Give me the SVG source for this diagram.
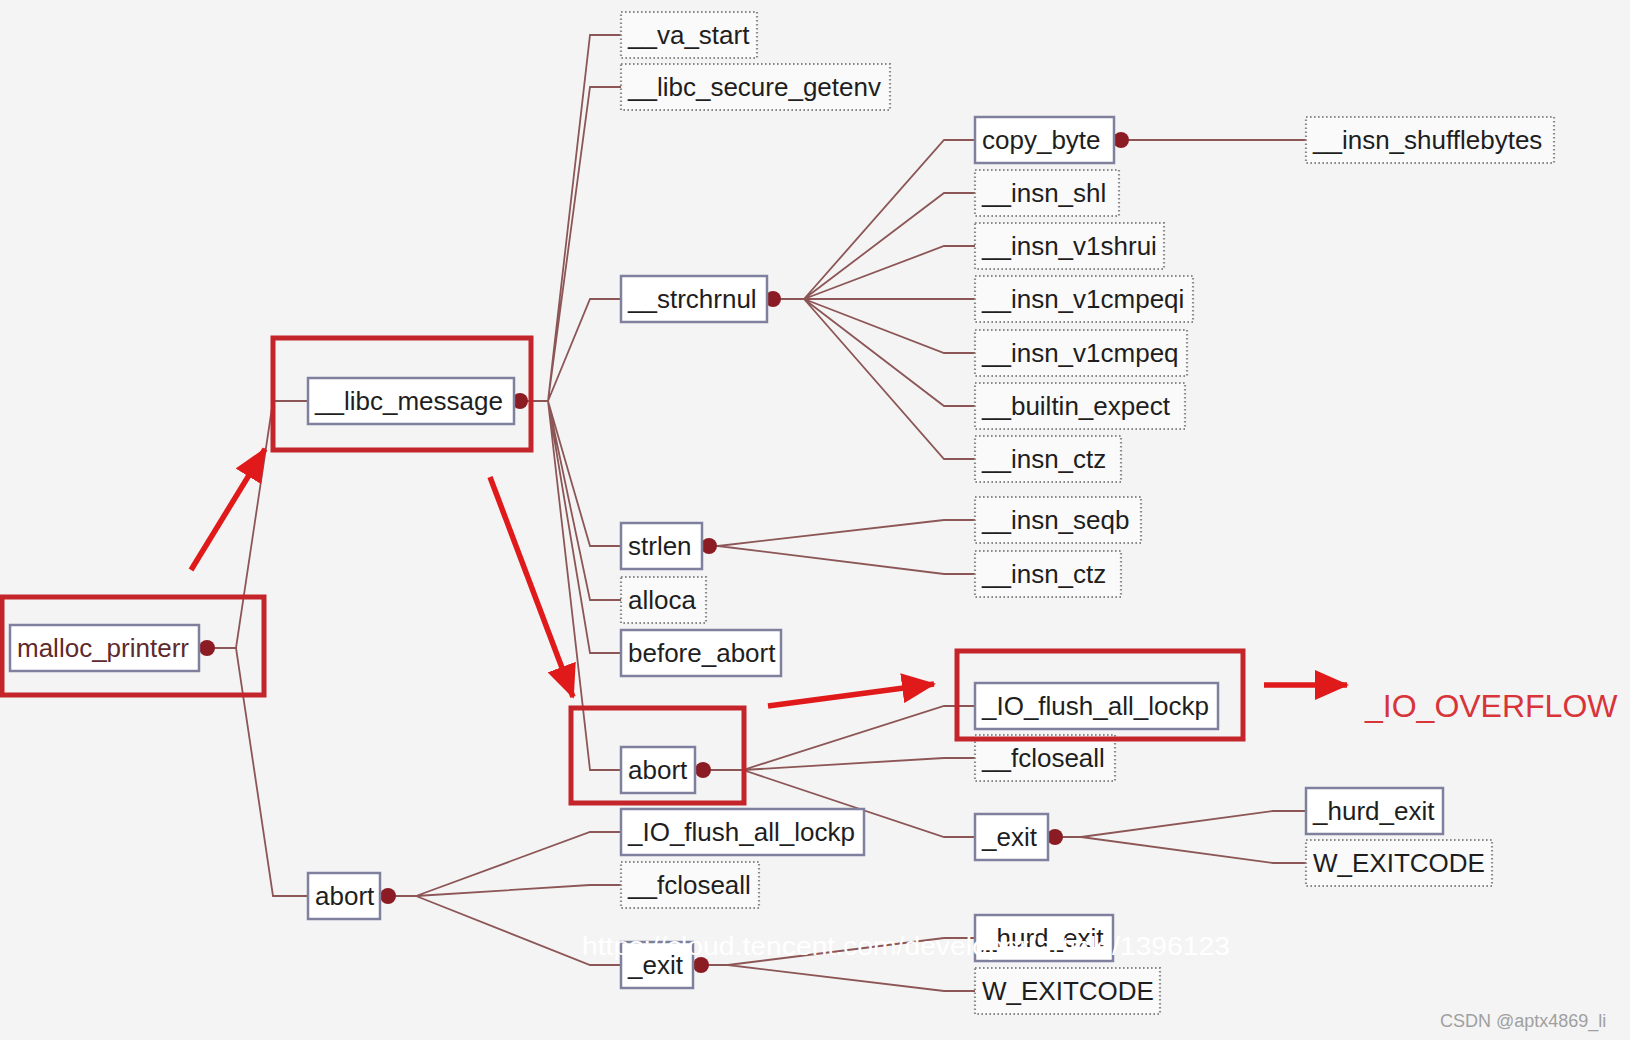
<svg xmlns="http://www.w3.org/2000/svg" width="1630" height="1040" viewBox="0 0 1630 1040">
<defs>
<style>
.n rect{fill:#ffffff;stroke:#7e809e;stroke-width:2.5}
.d rect{fill:#fafafa;stroke:#8a8a8a;stroke-width:2.2;stroke-dasharray:1.6 2.4}
text{font-family:"Liberation Sans",Arial,sans-serif}
.n text,.d text{font-size:26px;fill:#1e1e1e}
.c path{fill:none;stroke:#8d5656;stroke-width:1.8}
.c circle{fill:#8b1c24}
.hl{fill:none;stroke:#c3252b;stroke-width:5}
.ra{fill:none;stroke:#e01a1a;stroke-width:5.5;marker-end:url(#ah)}
</style>
<marker id="ah" markerUnits="userSpaceOnUse" markerWidth="36" markerHeight="30" refX="32" refY="15" orient="auto">
<path d="M0,0 L34,15 L0,30 Z" fill="#e01a1a"/>
</marker>
</defs>
<rect x="0" y="0" width="1630" height="1040" fill="#f4f4f4"/>

<g id="connectors" class="c">
<path d="M206,648 H236 M236,648 L273,401 H308 M236,648 L273,896 H308"/>
<path d="M519,401 H548 M548,401 L590,35 H621 M548,401 L590,87 H621 M548,401 L590,299 H621 M548,401 L590,546 H621 M548,401 L590,600 H621 M548,401 L590,653 H621 M548,401 L590,770 H621"/>
<path d="M772,299 H804 M804,299 L944,140 H975 M804,299 L944,193 H975 M804,299 L944,246 H975 M804,299 L944,299 H975 M804,299 L944,353 H975 M804,299 L944,406 H975 M804,299 L944,459 H975"/>
<path d="M1120,140 H1306"/>
<path d="M708,546 H718 M718,546 L944,520 H975 M718,546 L944,574 H975"/>
<path d="M702,770 H743 M743,770 L944,706 H975 M743,770 L944,758 H975 M743,770 L944,837 H975"/>
<path d="M1054,837 H1081 M1081,837 L1273,811 H1306 M1081,837 L1273,863 H1306"/>
<path d="M387,896 H416 M416,896 L590,832 H621 M416,896 L590,885 H621 M416,896 L590,965 H621"/>
<path d="M700,965 H728 M728,965 L944,938 H975 M728,965 L944,991 H975"/>
<circle cx="207" cy="648" r="8"/>
<circle cx="520" cy="401" r="8"/>
<circle cx="773" cy="299" r="8"/>
<circle cx="1121" cy="140" r="8"/>
<circle cx="709" cy="546" r="8"/>
<circle cx="703" cy="770" r="8"/>
<circle cx="388" cy="896" r="8"/>
<circle cx="1055" cy="837" r="8"/>
<circle cx="701" cy="965" r="8"/>
</g>

<g id="n_va_start" class="d"><rect x="621" y="12" width="136" height="46"/><text x="628" y="44">__va_start</text></g>
<g id="n_libc_secure_getenv" class="d"><rect x="621" y="64" width="269" height="46"/><text x="628" y="96">__libc_secure_getenv</text></g>
<g id="n_strchrnul" class="n"><rect x="621" y="276" width="146" height="46"/><text x="628" y="308">__strchrnul</text></g>
<g id="n_libc_message" class="n"><rect x="308" y="378" width="206" height="46"/><text x="315" y="410">__libc_message</text></g>
<g id="n_malloc_printerr" class="n"><rect x="10" y="625" width="189" height="46"/><text x="17" y="657" style="fill:#5e2a2c">malloc_printerr</text></g>
<g id="n_strlen" class="n"><rect x="621" y="523" width="81" height="46"/><text x="628" y="555">strlen</text></g>
<g id="n_alloca" class="d"><rect x="621" y="577" width="85" height="46"/><text x="628" y="609">alloca</text></g>
<g id="n_before_abort" class="n"><rect x="621" y="630" width="160" height="46"/><text x="628" y="662">before_abort</text></g>
<g id="n_abort_mid" class="n"><rect x="621" y="747" width="74" height="46"/><text x="628" y="779">abort</text></g>
<g id="n_abort_bottom" class="n"><rect x="308" y="873" width="72" height="46"/><text x="315" y="905">abort</text></g>
<g id="n_io_flush_bottom" class="n"><rect x="621" y="809" width="243" height="46"/><text x="628" y="841">_IO_flush_all_lockp</text></g>
<g id="n_fcloseall_bottom" class="d"><rect x="621" y="862" width="138" height="46"/><text x="628" y="894">__fcloseall</text></g>
<g id="n_exit_bottom" class="n"><rect x="621" y="942" width="72" height="46"/><text x="628" y="974">_exit</text></g>
<g id="n_hurd_exit_bottom" class="n"><rect x="975" y="915" width="138" height="46"/><text x="982" y="947">_hurd_exit</text></g>
<g id="n_w_exitcode_bottom" class="d"><rect x="975" y="968" width="185" height="46"/><text x="982" y="1000">W_EXITCODE</text></g>
<g id="n_copy_byte" class="n"><rect x="975" y="117" width="139" height="46"/><text x="982" y="149">copy_byte</text></g>
<g id="n_shufflebytes" class="d"><rect x="1306" y="117" width="248" height="46"/><text x="1313" y="149">__insn_shufflebytes</text></g>
<g id="n_shl" class="d"><rect x="975" y="170" width="144" height="46"/><text x="982" y="202">__insn_shl</text></g>
<g id="n_v1shrui" class="d"><rect x="975" y="223" width="189" height="46"/><text x="982" y="255">__insn_v1shrui</text></g>
<g id="n_v1cmpeqi" class="d"><rect x="975" y="276" width="218" height="46"/><text x="982" y="308">__insn_v1cmpeqi</text></g>
<g id="n_v1cmpeq" class="d"><rect x="975" y="330" width="212" height="46"/><text x="982" y="362">__insn_v1cmpeq</text></g>
<g id="n_builtin_expect" class="d"><rect x="975" y="383" width="210" height="46"/><text x="982" y="415">__builtin_expect</text></g>
<g id="n_ctz1" class="d"><rect x="975" y="436" width="146" height="46"/><text x="982" y="468">__insn_ctz</text></g>
<g id="n_seqb" class="d"><rect x="975" y="497" width="166" height="46"/><text x="982" y="529">__insn_seqb</text></g>
<g id="n_ctz2" class="d"><rect x="975" y="551" width="146" height="46"/><text x="982" y="583">__insn_ctz</text></g>
<g id="n_io_flush_mid" class="n"><rect x="975" y="683" width="243" height="46"/><text x="982" y="715">_IO_flush_all_lockp</text></g>
<g id="n_fcloseall_mid" class="d"><rect x="975" y="735" width="140" height="46"/><text x="982" y="767">__fcloseall</text></g>
<g id="n_exit_mid" class="n"><rect x="975" y="814" width="73" height="46"/><text x="982" y="846">_exit</text></g>
<g id="n_hurd_exit_right" class="n"><rect x="1306" y="788" width="137" height="46"/><text x="1313" y="820">_hurd_exit</text></g>
<g id="n_w_exitcode_right" class="d"><rect x="1306" y="840" width="186" height="46"/><text x="1313" y="872">W_EXITCODE</text></g>

<g id="highlights">
<rect class="hl" x="273" y="338" width="258" height="112"/>
<rect class="hl" x="2" y="597" width="262" height="98"/>
<rect class="hl" x="571" y="708" width="173" height="95"/>
<rect class="hl" x="957" y="651" width="286" height="88"/>
</g>

<g id="red_arrows">
<path class="ra" d="M191,570 L265,449"/>
<path class="ra" d="M490,477 L573,697"/>
<path class="ra" d="M768,706 L934,684"/>
<path class="ra" d="M1264,685 L1347,685"/>
</g>

<text id="io_overflow" x="1365" y="717" font-size="32" fill="#d8343a">_IO_OVERFLOW</text>
<text x="582" y="955" font-size="25" fill="#ffffff" textLength="648" lengthAdjust="spacingAndGlyphs">https://cloud.tencent.com/developer/article/1396123</text>
<text x="1440" y="1027" font-size="18" fill="#a0a0a0">CSDN @aptx4869_li</text>
</svg>
